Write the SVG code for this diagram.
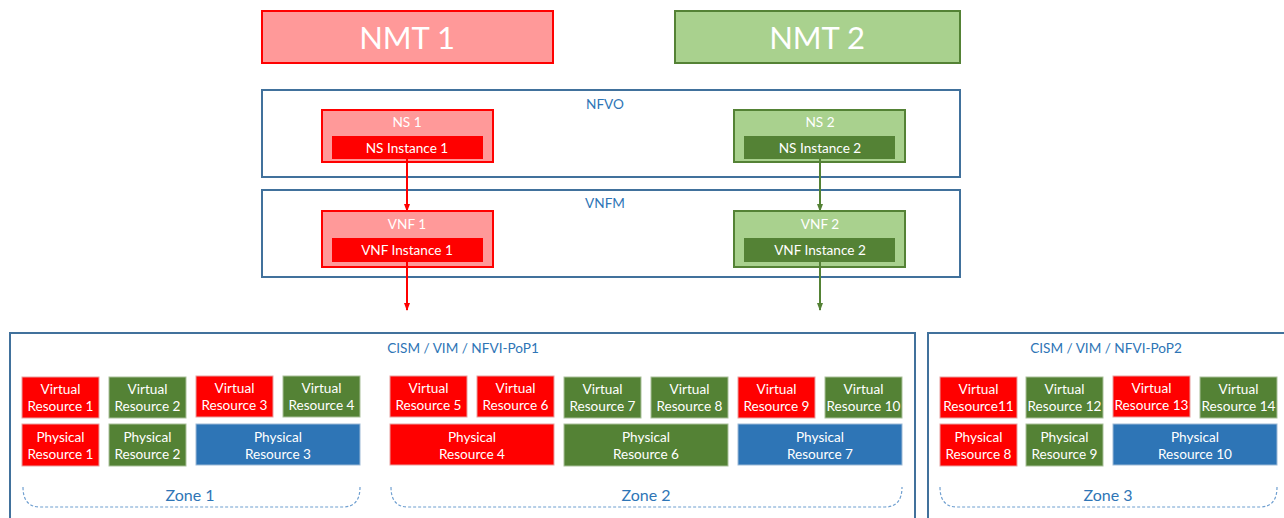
<svg xmlns="http://www.w3.org/2000/svg" width="1284" height="518" viewBox="0 0 1284 518">
<style>
text{font-family:Lato,"Open Sans","Liberation Sans",sans-serif;text-anchor:middle;dominant-baseline:central}
.w{fill:#fff}
.b{fill:#2e75b6}
.cont{fill:#fff;stroke:#41719c;stroke-width:2}
.lr{fill:#ff9999;stroke:#ff0000;stroke-width:2}
.lg{fill:#a9d18e;stroke:#548235;stroke-width:2}
.r{fill:#ff0000;stroke:#e8a0a0;stroke-width:1}
.g{fill:#548235;stroke:#a9c09a;stroke-width:1}
.bl{fill:#2e75b6;stroke:#9dbad6;stroke-width:1}
.ir{fill:#ff0000}
.ig{fill:#548235}
.t13{font-size:13.6px}
.zone{fill:none;stroke:#6f9fd0;stroke-width:1.2;stroke-dasharray:3,2}
</style>
<defs>
<marker id="ar" markerWidth="8" markerHeight="8" refX="7" refY="4" orient="auto" markerUnits="userSpaceOnUse"><path d="M0,1 L8,4 L0,7 z" fill="#ff0000"/></marker>
<marker id="ag" markerWidth="8" markerHeight="8" refX="7" refY="4" orient="auto" markerUnits="userSpaceOnUse"><path d="M0,1 L8,4 L0,7 z" fill="#548235"/></marker>
</defs>
<g id="nmt1"><rect class="lr" x="262" y="11" width="291" height="52"/><text class="w" x="407" y="37" font-size="31">NMT 1</text></g>
<g id="nmt2"><rect class="lg" x="675" y="11" width="285" height="52"/><text class="w" x="817" y="37" font-size="31">NMT 2</text></g>
<g id="nfvo"><rect class="cont" x="262" y="90" width="698" height="87"/><text class="b t13" x="605" y="104">NFVO</text></g>
<g id="ns1"><rect class="lr" x="322" y="110" width="171" height="52"/><text class="w t13" x="407" y="122">NS 1</text><rect class="ir" x="332" y="136" width="151" height="23"/><text class="w t13" x="407" y="148">NS Instance 1</text></g>
<g id="ns2"><rect class="lg" x="734" y="110" width="171" height="52"/><text class="w t13" x="820" y="122">NS 2</text><rect class="ig" x="744" y="136" width="151" height="23"/><text class="w t13" x="820" y="148">NS Instance 2</text></g>
<g id="vnfm"><rect class="cont" x="262" y="190" width="698" height="87"/><text class="b t13" x="605" y="203">VNFM</text></g>
<g id="vnf1"><rect class="lr" x="322" y="211" width="171" height="56"/><text class="w t13" x="407" y="224">VNF 1</text><rect class="ir" x="332" y="238" width="151" height="24"/><text class="w t13" x="407" y="250">VNF Instance 1</text></g>
<g id="vnf2"><rect class="lg" x="734" y="211" width="171" height="56"/><text class="w t13" x="820" y="224">VNF 2</text><rect class="ig" x="744" y="238" width="151" height="24"/><text class="w t13" x="820" y="250">VNF Instance 2</text></g>
<g id="connectors">
<line x1="407" y1="159" x2="407" y2="211" stroke="#ff0000" stroke-width="2" marker-end="url(#ar)"/>
<line x1="820" y1="159" x2="820" y2="211" stroke="#548235" stroke-width="2" marker-end="url(#ag)"/>
<line x1="407" y1="262" x2="407" y2="310" stroke="#ff0000" stroke-width="2" marker-end="url(#ar)"/>
<line x1="820" y1="262" x2="820" y2="310" stroke="#548235" stroke-width="2" marker-end="url(#ag)"/>
</g>
<g id="pop1"><rect class="cont" x="10" y="333" width="905" height="190"/><text class="b t13" x="463" y="348">CISM / VIM / NFVI-PoP1</text></g>
<g id="pop2"><rect class="cont" x="928" y="333" width="360" height="190"/><text class="b t13" x="1106" y="348">CISM / VIM / NFVI-PoP2</text></g>
<g id="zone1">
<rect class="r" x="22" y="377" width="77" height="41"/><text class="w t13" x="60.5" y="389">Virtual</text><text class="w t13" x="60.5" y="406">Resource 1</text>
<rect class="g" x="109" y="377" width="77" height="41"/><text class="w t13" x="147.5" y="389">Virtual</text><text class="w t13" x="147.5" y="406">Resource 2</text>
<rect class="r" x="196" y="376" width="77" height="41"/><text class="w t13" x="234.5" y="388">Virtual</text><text class="w t13" x="234.5" y="405">Resource 3</text>
<rect class="g" x="283" y="376" width="77" height="41"/><text class="w t13" x="321.5" y="388">Virtual</text><text class="w t13" x="321.5" y="405">Resource 4</text>
<rect class="r" x="22" y="424" width="77" height="42"/><text class="w t13" x="60.5" y="437">Physical</text><text class="w t13" x="60.5" y="454">Resource 1</text>
<rect class="g" x="109" y="424" width="77" height="42"/><text class="w t13" x="147.5" y="437">Physical</text><text class="w t13" x="147.5" y="454">Resource 2</text>
<rect class="bl" x="196" y="424" width="164" height="41"/><text class="w t13" x="278" y="437">Physical</text><text class="w t13" x="278" y="454">Resource 3</text>
<path class="zone" d="M23,487 Q23,507 40,507 L343,507 Q360,507 360,487"/>
<text class="b" x="190" y="494" font-size="16">Zone 1</text>
</g>
<g id="zone2">
<rect class="r" x="390" y="376" width="77" height="41"/><text class="w t13" x="428.5" y="388">Virtual</text><text class="w t13" x="428.5" y="405">Resource 5</text>
<rect class="r" x="477" y="376" width="77" height="41"/><text class="w t13" x="515.5" y="388">Virtual</text><text class="w t13" x="515.5" y="405">Resource 6</text>
<rect class="g" x="564" y="377" width="77" height="41"/><text class="w t13" x="602.5" y="389">Virtual</text><text class="w t13" x="602.5" y="406">Resource 7</text>
<rect class="g" x="651" y="377" width="77" height="41"/><text class="w t13" x="689.5" y="389">Virtual</text><text class="w t13" x="689.5" y="406">Resource 8</text>
<rect class="r" x="738" y="377" width="77" height="41"/><text class="w t13" x="776.5" y="389">Virtual</text><text class="w t13" x="776.5" y="406">Resource 9</text>
<rect class="g" x="825" y="377" width="77" height="41"/><text class="w t13" x="863.5" y="389">Virtual</text><text class="w t13" x="863.5" y="406">Resource 10</text>
<rect class="r" x="390" y="424" width="164" height="41"/><text class="w t13" x="472" y="437">Physical</text><text class="w t13" x="472" y="454">Resource 4</text>
<rect class="g" x="564" y="424" width="164" height="42"/><text class="w t13" x="646" y="437">Physical</text><text class="w t13" x="646" y="454">Resource 6</text>
<rect class="bl" x="738" y="424" width="164" height="41"/><text class="w t13" x="820" y="437">Physical</text><text class="w t13" x="820" y="454">Resource 7</text>
<path class="zone" d="M391,487 Q391,507 408,507 L885,507 Q902,507 902,487"/>
<text class="b" x="646" y="494" font-size="16">Zone 2</text>
</g>
<g id="zone3">
<rect class="r" x="940" y="377" width="77" height="41"/><text class="w t13" x="978.5" y="389">Virtual</text><text class="w t13" x="978.5" y="406">Resource11</text>
<rect class="g" x="1026" y="377" width="77" height="41"/><text class="w t13" x="1064.5" y="389">Virtual</text><text class="w t13" x="1064.5" y="406">Resource 12</text>
<rect class="r" x="1113" y="376" width="77" height="41"/><text class="w t13" x="1151.5" y="388">Virtual</text><text class="w t13" x="1151.5" y="405">Resource 13</text>
<rect class="g" x="1200" y="377" width="77" height="41"/><text class="w t13" x="1238.5" y="389">Virtual</text><text class="w t13" x="1238.5" y="406">Resource 14</text>
<rect class="r" x="940" y="424" width="77" height="42"/><text class="w t13" x="978.5" y="437">Physical</text><text class="w t13" x="978.5" y="454">Resource 8</text>
<rect class="g" x="1026" y="424" width="77" height="42"/><text class="w t13" x="1064.5" y="437">Physical</text><text class="w t13" x="1064.5" y="454">Resource 9</text>
<rect class="bl" x="1113" y="424" width="164" height="41"/><text class="w t13" x="1195" y="437">Physical</text><text class="w t13" x="1195" y="454">Resource 10</text>
<path class="zone" d="M940,487 Q940,507 957,507 L1260,507 Q1277,507 1277,487"/>
<text class="b" x="1108" y="494" font-size="16">Zone 3</text>
</g>
</svg>
